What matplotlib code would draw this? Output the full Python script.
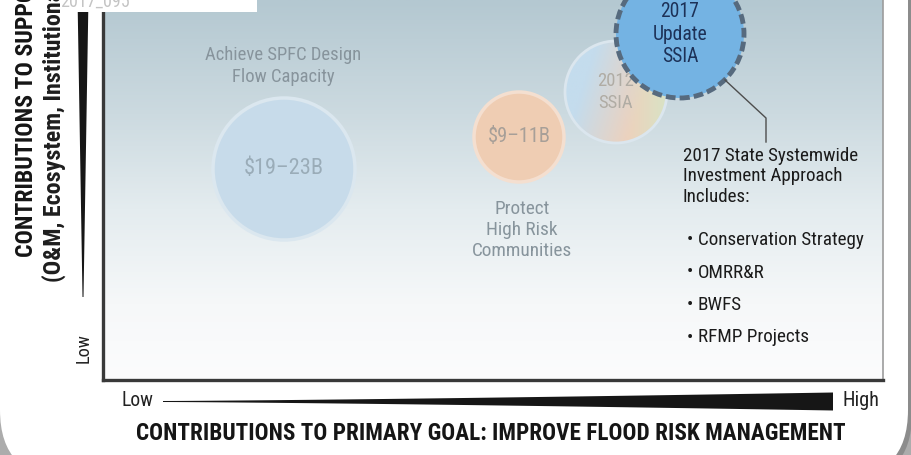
import os
import numpy as np
import matplotlib.pyplot as plt
from matplotlib import font_manager
from matplotlib.font_manager import FontProperties
from matplotlib.patches import Circle, Rectangle, FancyBboxPatch

# ---- data (plot units: 0-78 wide, 0-38 high) ----
bubble_labels = ["$19–23B", "$9–11B", "2012\nSSIA", "2017\nUpdate\nSSIA"]
bubble_x = [18.1, 41.6, 51.3, 57.7]
bubble_y = [21.1, 24.3, 28.8, 34.6]
bubble_r = [7.1, 4.5, 5.1, 6.4]

goal_labels = ["Achieve SPFC Design\nFlow Capacity", "Protect\nHigh Risk\nCommunities"]
goal_x = [18.0, 41.9]
goal_y = [31.4, 15.0]

callout_x = [62.2, 66.3, 66.3]
callout_y = [30.0, 26.2, 23.8]

approach_title = "2017 State Systemwide\nInvestment Approach\nIncludes:"
approach_items = ["Conservation Strategy", "OMRR&R", "BWFS", "RFMP Projects"]

x_title = "CONTRIBUTIONS TO PRIMARY GOAL: IMPROVE FLOOD RISK MANAGEMENT"
y_title = "CONTRIBUTIONS TO SUPPORTING GOALS"
y_subtitle = "(O&M, Ecosystem, Institutional Support, Multi-Benefit)"
axis_ends = ["Low", "High"]
tag = "2017_095"


def find_face(bold):
    """look for a condensed / narrow face on the system"""
    order = ['roboto', 'liberation', 'dejavu', 'noto', 'opensans', 'open']
    best = None
    for f in font_manager.fontManager.ttflist:
        fn = os.path.basename(f.fname).lower().replace('-', '').replace('_', '')
        if not ('condensed' in fn or 'narrow' in fn):
            continue
        if any(k in fn for k in ['italic', 'oblique', 'light', 'thin', 'black', 'medium',
                                 'semibold', 'extrabold', 'extracondensed', 'semicondensed',
                                 'ultra', 'display']):
            continue
        if bold != ('bold' in fn):
            continue
        rank = next((i for i, k in enumerate(order) if k in fn), len(order))
        if best is None or rank < best[0]:
            best = (rank, f.fname)
    return best[1] if best else None


reg_file, bold_file = find_face(False), find_face(True)
if reg_file:
    FP = FontProperties(fname=reg_file)
    FPB = FontProperties(fname=bold_file) if bold_file else FontProperties(fname=reg_file, weight='bold')
else:
    FP = FontProperties(family=['Roboto', 'DejaVu Sans'])
    FPB = FontProperties(family=['Roboto', 'DejaVu Sans'], weight='bold')

W, H = 912, 455
fig = plt.figure(figsize=(W / 100, H / 100), dpi=100, facecolor='#acacac')
fits = []  # (text, target width px, target line pitch px or None)


def put(axis, x, y, s, bold=False, width=None, pitch=None, **kw):
    fp = (FPB if bold else FP).copy()
    fp.set_size(14)
    t = axis.text(x, y, s, fontproperties=fp, **kw)
    if width:
        fits.append((t, width, pitch))
    return t


# white rounded panel behind everything
back = fig.add_axes([0, 0, 1, 1])
back.set_zorder(-1)
back.set_xlim(0, W)
back.set_ylim(H, 0)
back.axis('off')
back.add_patch(FancyBboxPatch((4, -96), 908, 578, boxstyle="round,pad=0,rounding_size=68",
                              fc='#8c8c8c', ec='none'))
back.add_patch(FancyBboxPatch((0, -100), 908, 578, boxstyle="round,pad=0,rounding_size=68",
                              fc='white', ec='none'))

# main plot area
ax = fig.add_axes([103 / W, 75 / H, 780 / W, 380 / H])
ax.set_xlim(0, 78)
ax.set_ylim(0, 38)
ax.set_xticks([])
ax.set_yticks([])
ax.patch.set_alpha(0)
for s in ['left', 'bottom']:
    ax.spines[s].set_color('#393939')
    ax.spines[s].set_linewidth(2.4)
ax.spines['right'].set_color('#9c9c9c')
ax.spines['right'].set_linewidth(1.2)
ax.spines['top'].set_visible(False)

# vertical background fade
stops = np.array([0, 0.3, 0.55, 0.8, 1.0])
cols = np.array([[180, 200, 209], [204, 218, 224], [228, 236, 239],
                 [246, 248, 249], [252, 252, 253]]) / 255
rows = np.linspace(0, 1, 256)
grad = np.stack([np.interp(rows, stops, cols[:, k]) for k in range(3)], axis=-1)
grad = np.repeat(grad[:, None, :], 2, axis=1)
ax.imshow(grad, extent=(0, 78, 0, 38), aspect='auto', origin='upper', zorder=0)

# bubbles
faces = ['#c7dbea', '#efcdb3', None, '#74b3e3']
rims = ['#dbe7ef', '#f4dfd0', '#dbe6ee', '#566a7e']
text_cols = ['#9aacb8', '#a79f98', '#b0aca4', '#1d3157']
text_w = [80, 63, 37, 55]
for i in range(len(bubble_labels)):
    z = 2 + 2 * i
    c = Circle((bubble_x[i], bubble_y[i]), bubble_r[i], zorder=z)
    if i == 3:
        c.set_facecolor(faces[i])
        c.set_edgecolor(rims[i])
        c.set_linewidth(3.5)
        c.set_linestyle((0, (2.0, 0.85)))
    elif faces[i] is None:
        # blended blue / orange / green fill
        c.set_facecolor('none')
        c.set_edgecolor(rims[i])
        c.set_linewidth(2)
        u, v = np.meshgrid(np.linspace(0, 1, 60), np.linspace(1, 0, 60))
        wb = np.clip(1.25 - 1.6 * u + 0.5 * (v - 0.5), 0, 1)
        wg = np.clip((u - 0.6) * 2.2, 0, 1) * (1 - wb)
        wo = np.clip(1 - wb - wg, 0, 1)
        blue = np.array([196, 220, 237]) / 255
        orng = np.array([238, 209, 188]) / 255
        gren = np.array([214, 229, 198]) / 255
        img = wb[..., None] * blue + wo[..., None] * orng + wg[..., None] * gren
        r = bubble_r[i]
        im = ax.imshow(img, extent=(bubble_x[i] - r, bubble_x[i] + r, bubble_y[i] - r, bubble_y[i] + r),
                       origin='upper', aspect='auto', zorder=z)
        im.set_clip_path(Circle((bubble_x[i], bubble_y[i]), r, transform=ax.transData))
    else:
        c.set_facecolor(faces[i])
        c.set_edgecolor(rims[i])
        c.set_linewidth(2.5)
    ax.add_patch(c)
    put(ax, bubble_x[i], bubble_y[i], bubble_labels[i], width=text_w[i], pitch=28,
        ha='center', va='center', color=text_cols[i], zorder=z + 1)

goal_w = [157, 101]
for lab, gx, gy, gw in zip(goal_labels, goal_x, goal_y, goal_w):
    put(ax, gx, gy, lab, width=gw, pitch=27, ha='center', va='center',
        color='#87949c', zorder=20)

# callout to the 2017 bubble
ax.plot(callout_x, callout_y, color='#4d4d4d', lw=1, zorder=19)
put(ax, 58.0, 23.3, approach_title, width=177, pitch=26, ha='left', va='top',
    color='#1b1b1b', zorder=20)
for k, item in enumerate(approach_items):
    yy = 14.0 - k * 3.25
    put(ax, 58.4, yy, "•", ha='left', va='center', color='#1b1b1b', zorder=20)
    put(ax, 59.5, yy, item, width=168 * len(item) / 21 if k else 168,
        ha='left', va='center', color='#1b1b1b', zorder=20)

# overlay: axis wedges, titles, tag box (pixel coordinates)
front = fig.add_axes([0, 0, 1, 1])
front.set_zorder(5)
front.set_xlim(0, W)
front.set_ylim(H, 0)
front.axis('off')
front.patch.set_alpha(0)

front.add_patch(Rectangle((0, 0), 257, 12, fc='white', ec='none'))
put(front, 95, 2, tag, width=70, ha='center', va='center', color='#c4c4c4')

# y wedge: thick at the top, thin at the bottom
t = np.linspace(0, 1, 60)
yy = 12 + t * (297 - 12)
half = 0.5 + 4.75 * (1 - t)
front.fill(np.r_[83 - half, (83 + half)[::-1]], np.r_[yy, yy[::-1]], color='#161616', lw=0)

# x wedge: thin on the left, thick on the right
s = np.linspace(0, 1, 80)
xx = 163 + s * (833 - 163)
half = 0.5 + 8.5 * s ** 1.3
front.fill(np.r_[xx, xx[::-1]], np.r_[401.5 - half, (401.5 + half)[::-1]], color='#161616', lw=0)

put(front, 137, 400, axis_ends[0], width=32, ha='center', va='center', color='#222222')
put(front, 861, 400, axis_ends[1], width=37, ha='center', va='center', color='#222222')
xt = put(front, 491, 433, x_title, bold=True, width=707, ha='center', va='center', color='#151515')

put(front, 84, 348, axis_ends[0], width=30, ha='center', va='center', rotation=90, color='#222222')
yt = put(front, 27, 257, y_title, bold=True, ha='center', va='bottom', rotation=90, color='#151515')
ys = put(front, 54, 282, y_subtitle, bold=True, ha='center', va='bottom', rotation=90, color='#1e1e1e')

# scale each text so its width matches the reference, then set line pitch
ren = fig.canvas.get_renderer()
for txt, target, pitch in fits:
    bb = txt.get_window_extent(ren)
    w = bb.height if txt.get_rotation() == 90 else bb.width
    if txt.get_text() in approach_items[1:]:
        continue
    txt.set_fontsize(txt.get_fontsize() * target / w)
    if pitch:
        txt.set_linespacing(pitch / (1.17 * txt.get_fontsize() * 100 / 72))
# bullets share the size of the first item
item_size = [tx for tx, _, _ in fits if tx.get_text() == approach_items[0]][0].get_fontsize()
for tx in ax.texts:
    if tx.get_text() in approach_items or tx.get_text() == "•":
        tx.set_fontsize(item_size)
yt.set_fontsize(xt.get_fontsize() * 1.03)
ys.set_fontsize(xt.get_fontsize() * 1.04)

fig.savefig('out.png', dpi=100, facecolor=fig.get_facecolor())
